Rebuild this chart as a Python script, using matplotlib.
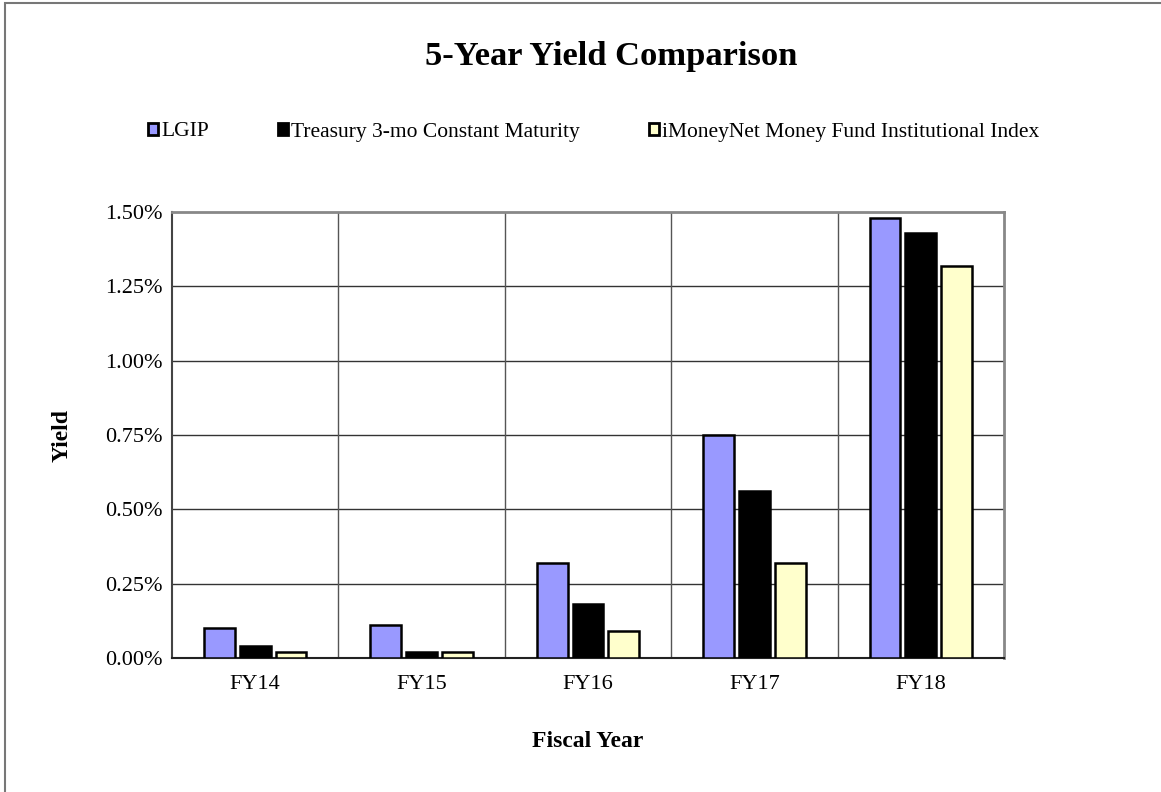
"""5-Year Yield Comparison bar chart."""
import matplotlib
matplotlib.use("Agg")
import matplotlib.pyplot as plt
import numpy as np
from matplotlib.patches import Rectangle
from matplotlib.ticker import FuncFormatter

years = ["FY14", "FY15", "FY16", "FY17", "FY18"]
lgip = [0.10, 0.11, 0.32, 0.75, 1.48]
treasury = [0.04, 0.02, 0.18, 0.56, 1.43]
imoney = [0.02, 0.02, 0.09, 0.32, 1.32]
series_names = ["LGIP", "Treasury 3-mo Constant Maturity",
                "iMoneyNet Money Fund Institutional Index"]
colors = ["#9999FF", "#000000", "#FFFFCC"]
yticks = [0.0, 0.25, 0.5, 0.75, 1.0, 1.25, 1.5]

plt.rcParams["font.family"] = ["Liberation Serif", "DejaVu Serif"]

fig = plt.figure(figsize=(11.61, 7.92), dpi=100)
ax = fig.add_axes([172 / 1161, 1 - 658 / 792, (1004 - 172) / 1161, (658 - 212) / 792])

x = np.arange(len(years))
w, off = 0.185, 0.215
for i, (vals, c, name) in enumerate(zip([lgip, treasury, imoney], colors, series_names)):
    ax.bar(x + (i - 1) * off, vals, width=w, color=c, edgecolor="black",
           linewidth=1.8, label=name, zorder=3)

ax.set_xlim(-0.5, len(years) - 0.5)
ax.set_ylim(0, 1.5)
ax.set_yticks(yticks)
ax.yaxis.set_major_formatter(FuncFormatter(lambda v, _: f"{v:.2f}%"))
ax.set_xticks(x)
ax.set_xticklabels(years)
ax.tick_params(axis="both", labelsize=16, length=0, pad=7)
ax.tick_params(axis="x", pad=12)

for v in yticks[1:-1]:
    ax.axhline(v, color="#333333", lw=1.0, zorder=1)
for b in np.arange(0.5, len(years) - 0.5, 1.0):
    ax.axvline(b, color="#555555", lw=1.0, zorder=1)

for s in ["top", "right"]:
    ax.spines[s].set_color("#888888")
    ax.spines[s].set_linewidth(2)
ax.spines["left"].set_color("#444444")
ax.spines["bottom"].set_color("#222222")
ax.spines["left"].set_linewidth(1.5)
ax.spines["bottom"].set_linewidth(1.5)

ax.set_ylabel("Yield", fontsize=17, fontweight="bold", labelpad=23)
ax.set_xlabel("Fiscal Year", fontsize=17, fontweight="bold", labelpad=27)
fig.text(611 / 1161, 1 - 57 / 792, "5-Year Yield Comparison", fontsize=24.8,
         fontweight="bold", ha="center", va="center")

leg = fig.legend(loc="center left", bbox_to_anchor=(139 / 1161, 1 - 132 / 792), ncol=3,
                 frameon=False, fontsize=15.5, handlelength=0.5, handleheight=0.5,
                 handletextpad=0.12, columnspacing=3.2, borderaxespad=0)
for h in leg.legend_handles:
    h.set_linewidth(2.0)

fig.patches.append(Rectangle((5 / 1161, -0.05), 1.1, 1 - 3 / 792 + 0.05, transform=fig.transFigure,
                             fill=False, edgecolor="#777777", lw=1.5))

fig.savefig("out.png", dpi=100)
